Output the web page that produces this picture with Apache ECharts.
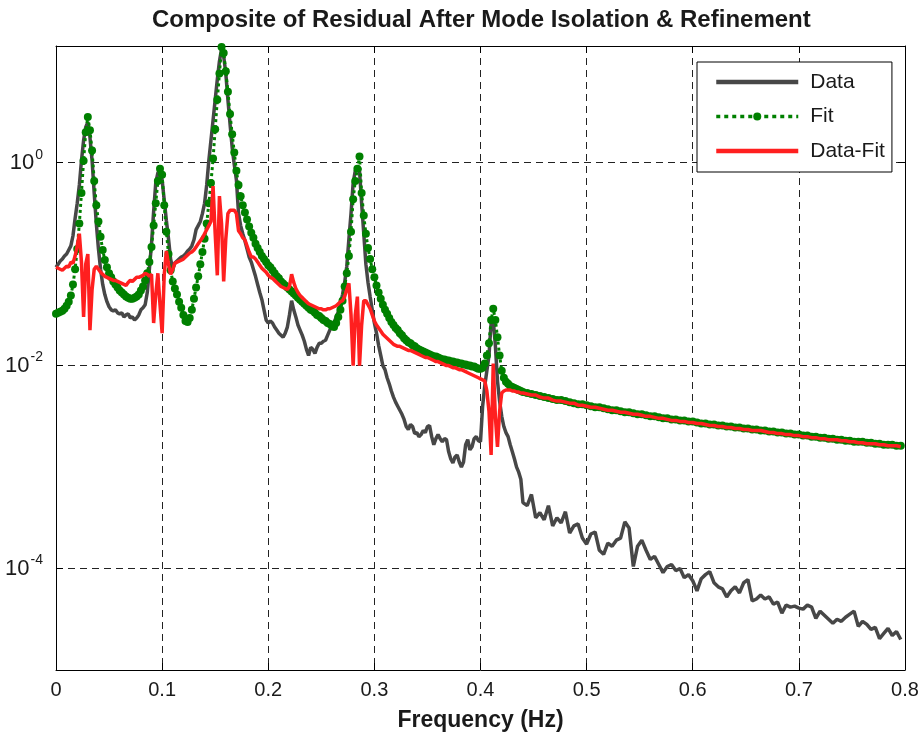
<!DOCTYPE html>
<html>
<head>
<meta charset="utf-8">
<script src="https://cdn.jsdelivr.net/npm/echarts@6/dist/echarts.min.js"></script>
<style>html,body{margin:0;padding:0;background:#fff}#chart{width:923px;height:737px}</style>
</head>
<body>
<div id="chart"></div>
<script>
// Frequency (Hz)
const freq = [
0,0.002,0.004,0.006,0.008,0.01,0.012,0.014,0.016,0.018,
0.02,0.022,0.024,0.026,0.028,0.03,0.032,0.034,0.036,0.038,
0.04,0.042,0.044,0.046,0.048,0.05,0.052,0.054,0.056,0.058,
0.06,0.062,0.064,0.066,0.068,0.07,0.072,0.074,0.076,0.078,
0.08,0.082,0.084,0.086,0.088,0.09,0.092,0.094,0.096,0.098,
0.1,0.102,0.104,0.106,0.108,0.11,0.112,0.114,0.116,0.118,
0.12,0.122,0.124,0.126,0.128,0.13,0.132,0.134,0.136,0.138,
0.14,0.142,0.144,0.146,0.148,0.15,0.152,0.154,0.156,0.158,
0.16,0.162,0.164,0.166,0.168,0.17,0.172,0.174,0.176,0.178,
0.18,0.182,0.184,0.186,0.188,0.19,0.192,0.194,0.196,0.198,
0.2,0.202,0.204,0.206,0.208,0.21,0.212,0.214,0.216,0.218,
0.22,0.222,0.224,0.226,0.228,0.23,0.232,0.234,0.236,0.238,
0.24,0.242,0.244,0.246,0.248,0.25,0.252,0.254,0.256,0.258,
0.26,0.262,0.264,0.266,0.268,0.27,0.272,0.274,0.276,0.278,
0.28,0.282,0.284,0.286,0.288,0.29,0.292,0.294,0.296,0.298,
0.3,0.302,0.304,0.306,0.308,0.31,0.312,0.314,0.316,0.318,
0.32,0.322,0.324,0.326,0.328,0.33,0.332,0.334,0.336,0.338,
0.34,0.342,0.344,0.346,0.348,0.35,0.352,0.354,0.356,0.358,
0.36,0.362,0.364,0.366,0.368,0.37,0.372,0.374,0.376,0.378,
0.38,0.382,0.384,0.386,0.388,0.39,0.392,0.394,0.396,0.398,
0.4,0.402,0.404,0.406,0.408,0.41,0.412,0.414,0.416,0.418,
0.42,0.422,0.424,0.426,0.428,0.43,0.432,0.434,0.436,0.438,
0.44,
0.444,0.448,0.452,0.456,0.46,0.464,0.468,0.472,0.476,
0.48,0.484,0.488,0.492,0.496,0.5,0.504,0.508,0.512,0.516,
0.52,0.524,0.528,0.532,0.536,0.54,0.544,0.548,0.552,0.556,
0.56,0.564,0.568,0.572,0.576,0.58,0.584,0.588,0.592,0.596,
0.6,0.604,0.608,0.612,0.616,0.62,0.624,0.628,0.632,0.636,
0.64,0.644,0.648,0.652,0.656,0.66,0.664,0.668,0.672,0.676,
0.68,0.684,0.688,0.692,0.696,0.7,0.704,0.708,0.712,0.716,
0.72,0.724,0.728,0.732,0.736,0.74,0.744,0.748,0.752,0.756,
0.76,0.764,0.768,0.772,0.776,0.78,0.784,0.788,0.792,0.796
];

// log10 of the amplitude
const dataLog = [
-1.03,-1.00,-0.97,-0.95,-0.92,-0.90,-0.86,-0.82,-0.72,-0.55,
-0.40,-0.22,0.02,0.22,0.35,0.40,0.25,0.02,-0.30,-0.60,
-0.85,-1.05,-1.20,-1.30,-1.37,-1.42,-1.45,-1.46,-1.45,-1.48,
-1.49,-1.48,-1.52,-1.50,-1.49,-1.53,-1.52,-1.55,-1.53,-1.50,
-1.45,-1.43,-1.40,-1.28,-1.05,-0.80,-0.48,-0.20,-0.10,-0.08,
-0.17,-0.37,-0.57,-0.75,-0.95,-1.05,-0.99,-0.97,-0.95,-0.93,
-0.92,-0.90,-0.87,-0.85,-0.82,-0.76,-0.66,-0.62,-0.58,-0.50,
-0.40,-0.22,0.02,0.22,0.42,0.62,0.82,1.00,1.12,1.05,
0.88,0.62,0.38,0.15,-0.02,-0.17,-0.50,-0.62,-0.70,-0.77,
-0.85,-0.93,-0.98,-1.05,-1.12,-1.20,-1.28,-1.35,-1.45,-1.55,
-1.58,-1.56,-1.58,-1.62,-1.65,-1.68,-1.70,-1.72,-1.68,-1.62,
-1.50,-1.36,-1.45,-1.52,-1.60,-1.65,-1.70,-1.76,-1.84,-1.90,
-1.82,-1.84,-1.88,-1.82,-1.78,-1.78,-1.76,-1.75,-1.70,-1.65,
-1.62,-1.58,-1.52,-1.47,-1.40,-1.30,-1.18,-1.02,-0.75,-0.50,
-0.20,-0.08,-0.04,-0.08,-0.40,-0.70,-1.00,-1.18,-1.32,-1.45,
-1.58,-1.68,-1.80,-1.90,-2.00,-2.04,-2.12,-2.18,-2.25,-2.31,
-2.36,-2.40,-2.44,-2.48,-2.53,-2.60,-2.63,-2.58,-2.60,-2.67,
-2.66,-2.70,-2.68,-2.64,-2.66,-2.60,-2.59,-2.70,-2.78,-2.72,
-2.68,-2.72,-2.75,-2.72,-2.73,-2.85,-2.92,-2.96,-2.90,-2.88,
-2.95,-3.00,-2.95,-2.78,-2.73,-2.83,-2.80,-2.72,-2.70,-2.74,
-2.75,-2.40,-2.20,-2.05,-1.90,-1.58,-1.55,-1.80,-2.15,-2.35,
-2.50,-2.60,-2.66,-2.70,-2.78,-2.85,-2.92,-3.00,-3.05,-3.12,
-3.35,
-3.38,-3.27,-3.50,-3.45,-3.52,-3.38,-3.58,-3.50,-3.55,
-3.44,-3.65,-3.58,-3.56,-3.70,-3.76,-3.66,-3.64,-3.82,-3.86,
-3.75,-3.78,-3.72,-3.70,-3.54,-3.60,-3.98,-3.78,-3.72,-3.82,
-3.91,-3.88,-3.96,-4.04,-3.98,-3.96,-4.02,-4.00,-4.09,-4.06,
-4.12,-4.22,-4.10,-4.06,-4.03,-4.14,-4.18,-4.20,-4.28,-4.22,
-4.18,-4.24,-4.14,-4.11,-4.32,-4.30,-4.26,-4.30,-4.28,-4.35,
-4.33,-4.44,-4.36,-4.38,-4.37,-4.39,-4.40,-4.36,-4.38,-4.49,
-4.42,-4.46,-4.50,-4.54,-4.50,-4.52,-4.48,-4.45,-4.42,-4.57,
-4.52,-4.55,-4.60,-4.58,-4.69,-4.64,-4.59,-4.66,-4.62,-4.70
];

const fitLog = [
-1.49,-1.48,-1.47,-1.46,-1.44,-1.41,-1.37,-1.31,-1.20,-1.05,
-0.85,-0.60,-0.30,0.02,0.30,0.45,0.32,0.12,-0.18,-0.42,
-0.58,-0.73,-0.86,-0.96,-1.03,-1.09,-1.13,-1.17,-1.20,-1.23,
-1.26,-1.28,-1.30,-1.32,-1.33,-1.34,-1.34,-1.33,-1.32,-1.30,
-1.26,-1.22,-1.16,-1.09,-0.98,-0.83,-0.62,-0.40,-0.18,-0.06,
-0.12,-0.42,-0.68,-0.90,-1.06,-1.17,-1.24,-1.30,-1.37,-1.43,
-1.50,-1.56,-1.57,-1.53,-1.45,-1.34,-1.23,-1.12,-1.00,-0.88,
-0.75,-0.60,-0.40,-0.20,0.04,0.33,0.62,0.88,1.14,1.08,
0.90,0.70,0.48,0.28,0.10,-0.08,-0.22,-0.33,-0.42,-0.49,
-0.56,-0.63,-0.69,-0.74,-0.80,-0.84,-0.88,-0.92,-0.95,-0.98,
-1.01,-1.03,-1.06,-1.09,-1.12,-1.14,-1.17,-1.19,-1.21,-1.23,
-1.25,-1.27,-1.29,-1.31,-1.33,-1.35,-1.37,-1.39,-1.41,-1.43,
-1.45,-1.46,-1.48,-1.50,-1.51,-1.53,-1.55,-1.56,-1.58,-1.59,
-1.61,-1.62,-1.58,-1.52,-1.45,-1.36,-1.22,-1.09,-0.92,-0.68,
-0.36,-0.18,-0.06,0.06,-0.30,-0.52,-0.70,-0.84,-0.95,-1.05,
-1.13,-1.21,-1.28,-1.34,-1.40,-1.45,-1.49,-1.53,-1.57,-1.60,
-1.63,-1.65,-1.68,-1.70,-1.73,-1.75,-1.77,-1.78,-1.80,-1.81,
-1.83,-1.84,-1.85,-1.86,-1.87,-1.88,-1.89,-1.90,-1.91,-1.91,
-1.92,-1.93,-1.94,-1.94,-1.95,-1.95,-1.96,-1.96,-1.97,-1.97,
-1.98,-1.98,-1.99,-1.99,-2.00,-2.00,-2.01,-2.01,-2.02,-2.03,
-2.03,-2.02,-1.98,-1.90,-1.78,-1.55,-1.44,-1.55,-1.72,-1.90,
-2.05,-2.12,-2.16,-2.18,-2.20,-2.21,-2.22,-2.23,-2.24,-2.25,
-2.26,
-2.27,-2.28,-2.29,-2.30,-2.31,-2.32,-2.33,-2.34,-2.34,
-2.35,-2.36,-2.37,-2.38,-2.38,-2.39,-2.40,-2.41,-2.41,-2.42,
-2.43,-2.44,-2.44,-2.45,-2.46,-2.46,-2.47,-2.48,-2.48,-2.49,
-2.50,-2.50,-2.51,-2.52,-2.52,-2.53,-2.53,-2.54,-2.54,-2.55,
-2.55,-2.56,-2.57,-2.57,-2.58,-2.58,-2.59,-2.59,-2.60,-2.60,
-2.61,-2.61,-2.62,-2.62,-2.63,-2.63,-2.64,-2.64,-2.65,-2.65,
-2.66,-2.66,-2.67,-2.67,-2.68,-2.68,-2.69,-2.69,-2.70,-2.70,
-2.71,-2.71,-2.72,-2.72,-2.73,-2.73,-2.74,-2.74,-2.75,-2.75,
-2.75,-2.76,-2.76,-2.77,-2.77,-2.78,-2.78,-2.78,-2.79,-2.79
];

const residLog = [
-1.03,-1.04,-1.05,-1.06,-1.04,-1.02,-1.03,-0.98,-0.99,-0.92,
-0.82,-0.70,-0.98,-1.52,-1.00,-0.90,-1.65,-1.25,-1.05,-1.02,
-1.05,-1.08,-1.10,-1.12,-1.13,-1.14,-1.15,-1.16,-1.16,-1.17,
-1.18,-1.19,-1.20,-1.21,-1.18,-1.16,-1.17,-1.15,-1.13,-1.13,
-1.12,-1.11,-1.09,-1.10,-1.12,-1.10,-1.58,-1.30,-1.09,-1.40,
-1.68,-1.10,-0.87,-1.00,-1.10,-1.05,-0.99,-0.98,-0.97,-0.96,
-0.95,-0.93,-0.91,-0.89,-0.88,-0.86,-0.83,-0.80,-0.77,-0.74,
-0.70,-0.66,-0.62,-0.58,-0.23,-0.70,-1.11,-0.33,-0.60,-1.17,
-0.75,-0.50,-0.47,-0.47,-0.47,-0.50,-0.67,-0.70,-0.74,-0.76,
-0.82,-0.88,-0.93,-0.93,-0.95,-0.98,-1.01,-1.04,-1.06,-1.08,
-1.11,-1.13,-1.14,-1.16,-1.18,-1.20,-1.22,-1.23,-1.24,-1.25,
-1.22,-1.10,-1.18,-1.24,-1.28,-1.31,-1.33,-1.35,-1.37,-1.39,
-1.40,-1.41,-1.42,-1.43,-1.44,-1.44,-1.45,-1.45,-1.44,-1.44,
-1.43,-1.42,-1.41,-1.39,-1.37,-1.36,-1.32,-1.25,-1.19,-1.50,
-2.00,-1.50,-1.32,-2.00,-1.60,-1.36,-1.36,-1.40,-1.44,-1.50,
-1.56,-1.60,-1.63,-1.66,-1.69,-1.71,-1.73,-1.75,-1.77,-1.79,
-1.80,-1.81,-1.81,-1.82,-1.83,-1.84,-1.85,-1.85,-1.86,-1.87,
-1.88,-1.89,-1.90,-1.91,-1.92,-1.92,-1.93,-1.94,-1.95,-1.96,
-1.96,-1.97,-1.98,-1.99,-2.00,-2.00,-2.01,-2.02,-2.02,-2.03,
-2.04,-2.04,-2.05,-2.06,-2.07,-2.08,-2.09,-2.10,-2.11,-2.12,
-2.13,-2.14,-2.15,-2.25,-2.45,-2.88,-1.98,-2.50,-2.80,-2.45,
-2.27,-2.25,-2.24,-2.24,-2.24,-2.25,-2.25,-2.26,-2.26,-2.27,
-2.27,
-2.28,-2.29,-2.29,-2.31,-2.32,-2.32,-2.34,-2.35,-2.35,
-2.36,-2.37,-2.37,-2.39,-2.39,-2.40,-2.41,-2.41,-2.42,-2.43,
-2.44,-2.44,-2.45,-2.46,-2.46,-2.47,-2.48,-2.48,-2.49,-2.50,
-2.50,-2.51,-2.52,-2.52,-2.53,-2.54,-2.54,-2.55,-2.55,-2.56,
-2.56,-2.57,-2.57,-2.58,-2.59,-2.59,-2.60,-2.60,-2.61,-2.61,
-2.62,-2.62,-2.63,-2.63,-2.64,-2.64,-2.64,-2.65,-2.66,-2.66,
-2.67,-2.67,-2.68,-2.68,-2.69,-2.69,-2.70,-2.70,-2.71,-2.71,
-2.72,-2.72,-2.73,-2.73,-2.73,-2.74,-2.74,-2.75,-2.75,-2.76,
-2.76,-2.77,-2.77,-2.77,-2.78,-2.78,-2.79,-2.79,-2.79,-2.80
];

const yTickExponents = [-4, -2, 0];
const seriesNames = ['Data', 'Fit', 'Data-Fit'];
const titleText = 'Composite of Residual After Mode Isolation & Refinement';
const xAxisTitle = 'Frequency (Hz)';

const FONT = "'Liberation Sans', Arial, Helvetica, sans-serif";
const pairs = (vals) => freq.map((f, i) => [f, vals[i]]);

const chart = echarts.init(document.getElementById('chart'), null, {renderer: 'canvas'});
const dash = {color: '#222', width: 1, type: [7, 5]};

chart.setOption({
  animation: false,
  backgroundColor: '#fff',
  title: {
    text: titleText, left: 152, top: 8, padding: 0,
    textStyle: {fontFamily: FONT, fontSize: 24, fontWeight: 'bold', color: '#1a1a1a'}
  },
  grid: {left: 56, right: 18, top: 46, bottom: 66, containLabel: false},
  legend: {
    orient: 'vertical', left: 697, top: 62,
    padding: [8, 7, 9, 17], itemGap: 10.5, itemWidth: 82, itemHeight: 10,
    borderColor: '#000', borderWidth: 1, backgroundColor: '#fff', borderRadius: 0,
    textStyle: {fontFamily: FONT, fontSize: 21, color: '#1a1a1a', lineHeight: 24, padding: [0, 0, 0, 7]},
    data: [
      {name: seriesNames[0], itemStyle: {opacity: 0}, lineStyle: {width: 4.5, color: '#474747'}},
      {name: seriesNames[1], lineStyle: {width: 3.5, type: [4, 4], color: '#008000'}},
      {name: seriesNames[2], itemStyle: {opacity: 0}, lineStyle: {width: 4.5, color: '#ff1f1f'}}
    ]
  },
  xAxis: [{
    type: 'value', min: 0, max: 0.8, interval: 0.1,
    name: xAxisTitle, nameLocation: 'middle', nameGap: 39,
    nameTextStyle: {fontFamily: FONT, fontSize: 23, fontWeight: 'bold', color: '#1a1a1a'},
    axisLine: {show: true, onZero: false, lineStyle: {color: '#000', width: 1}},
    axisTick: {show: true, inside: true, length: 7, lineStyle: {color: '#000'}},
    axisLabel: {fontFamily: FONT, fontSize: 20, color: '#1a1a1a', margin: 10,
      formatter: v => String(Math.round(v * 10) / 10)},
    splitLine: {show: true, lineStyle: dash}
  }, {
    type: 'value', position: 'top', min: 0, max: 0.8, interval: 0.1,
    axisLine: {show: true, onZero: false, lineStyle: {color: '#000', width: 1}},
    axisTick: {show: true, inside: true, length: 7, lineStyle: {color: '#000'}},
    axisLabel: {show: false}, splitLine: {show: false}
  }],
  yAxis: [{
    type: 'value', min: -5, max: 1.15, interval: 1,
    axisLine: {show: true, onZero: false, lineStyle: {color: '#000', width: 1}},
    axisTick: {show: true, inside: true, length: 7, customValues: yTickExponents, lineStyle: {color: '#000'}},
    axisLabel: {
      customValues: yTickExponents, margin: 13,
      formatter: v => '{b|10}{s|' + v + '}',
      rich: {
        b: {fontFamily: FONT, fontSize: 22, color: '#1a1a1a'},
        s: {fontFamily: FONT, fontSize: 14, color: '#1a1a1a', padding: [0, 0, 16, 1]}
      }
    },
    splitLine: {show: true, lineStyle: dash}
  }, {
    type: 'value', position: 'right', min: -5, max: 1.15, interval: 1,
    axisLine: {show: true, onZero: false, lineStyle: {color: '#000', width: 1}},
    axisTick: {show: true, inside: true, length: 7, customValues: yTickExponents, lineStyle: {color: '#000'}},
    axisLabel: {show: false}, splitLine: {show: false}
  }],
  series: [{
    name: seriesNames[0], type: 'line', data: pairs(dataLog),
    symbol: 'none', lineStyle: {color: '#474747', width: 3.5}, itemStyle: {color: '#474747'}, z: 2
  }, {
    name: seriesNames[1], type: 'line', data: pairs(fitLog),
    symbol: 'circle', symbolSize: 8, showSymbol: true, showAllSymbol: true,
    lineStyle: {color: '#008000', width: 3, type: [3, 3]}, itemStyle: {color: '#008000'}, z: 3
  }, {
    name: seriesNames[2], type: 'line', data: pairs(residLog),
    symbol: 'none', lineStyle: {color: '#ff1f1f', width: 3.5}, itemStyle: {color: '#ff1f1f'}, z: 4
  }]
});
</script>
</body>
</html>
